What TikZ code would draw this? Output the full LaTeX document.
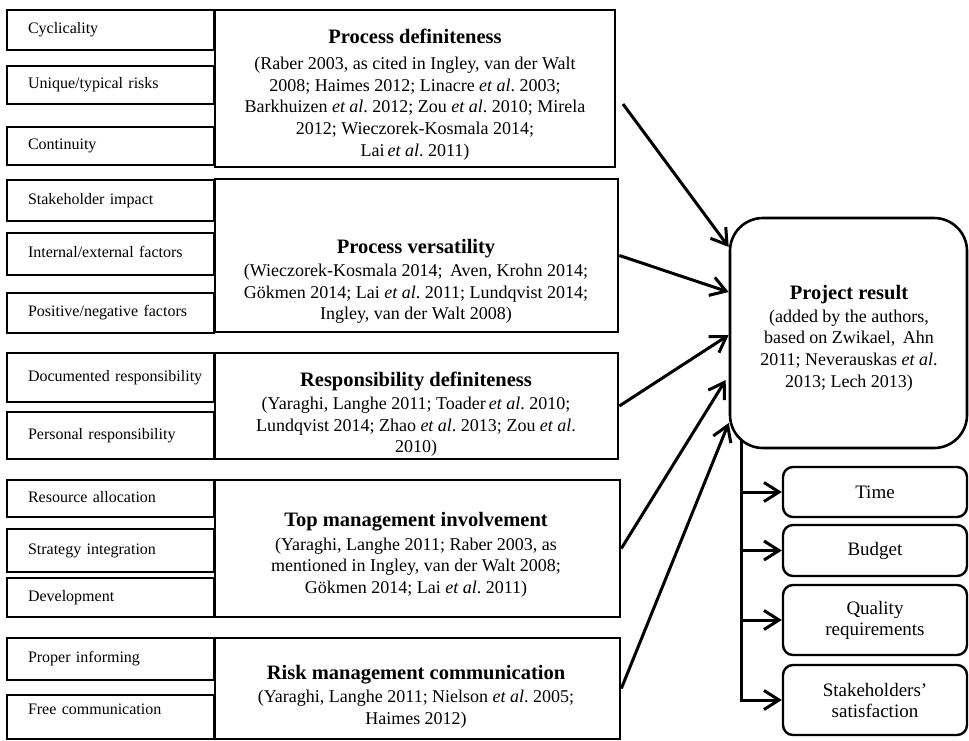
\documentclass[tikz,border=0pt]{standalone}
\usepackage{fontspec}
\setmainfont{Liberation Serif}
\usetikzlibrary{arrows.meta,calc}
\newcommand\ttl{\fontsize{20.5}{24}\selectfont\bfseries}
\tikzset{
  lbox/.style={draw, line width=2.6pt, text width=207pt, inner xsep=0pt, inner ysep=0pt,
    align=left, text height=10.5pt, text depth=3.5pt,
    font=\fontsize{16}{18}\selectfont, execute at begin node={\hspace*{21pt}}},
  mbox/.style={draw, line width=2.6pt, inner sep=0pt},
  mtext/.style={align=center, inner sep=0pt, anchor=north, font=\fontsize{18}{21.6}\selectfont},
  pbox/.style={draw, line width=2.6pt, rounded corners=33pt, inner sep=0pt},
  obox/.style={draw, line width=2.4pt, rounded corners=10pt, minimum width=184pt,
    align=center, inner sep=0pt, font=\fontsize{19}{21}\selectfont},
  arr/.style={line width=3pt, -{Straight Barb[length=15pt,width=19pt]}},
}
\begin{document}
\frenchspacing
\begin{tikzpicture}[x=1pt,y=-1pt]
\fill[white] (0,0) rectangle (969,740);
\useasboundingbox (0,0) rectangle (969,740);

% left factor boxes
\node[lbox, minimum height=40pt] (cyc) at (110.5,30) {Cyclicality};
\node[lbox, minimum height=38pt] (uni) at (110.5,85) {Unique/typical risks};
\node[lbox, minimum height=38pt] (con) at (110.5,146) {Continuity};
\node[lbox, minimum height=41pt] (sti) at (110.5,200.5) {Stakeholder impact};
\node[lbox, minimum height=42pt] (ief) at (110.5,254) {Internal/external factors};
\node[lbox, minimum height=40pt] (pnf) at (110.5,313) {Positive/negative factors};
\node[lbox, minimum height=49pt] (doc) at (110.5,377.5) {Documented responsibility};
\node[lbox, minimum height=47pt] (per) at (110.5,435.5) {Personal responsibility};
\node[lbox, minimum height=37pt] (res) at (110.5,498.5) {Resource allocation};
\node[lbox, minimum height=43pt] (str) at (110.5,550.5) {Strategy integration};
\node[lbox, minimum height=39pt] (dev) at (110.5,597.5) {Development};
\node[lbox, minimum height=42pt] (pin) at (110.5,659) {Proper informing};
\node[lbox, minimum height=44pt, text depth=16pt] (fco) at (110.5,717) {Free communication};

% main boxes
\node[mbox, minimum width=400pt, minimum height=157pt] (m1) at (415,88.5) {};
\node[mbox, minimum width=403pt, minimum height=153pt] (m2) at (416.5,255.5) {};
\node[mbox, minimum width=403pt, minimum height=106pt] (m3) at (416.5,406) {};
\node[mbox, minimum width=405pt, minimum height=137pt] (m4) at (417.5,548.5) {};
\node[mbox, minimum width=405pt, minimum height=101pt] (m5) at (417.5,688.5) {};

\node[mtext] (t1) at (415,28.5) {{\ttl Process definiteness}\\[5pt]
(Raber 2003, as cited in Ingley, van der Walt\\
2008; Haimes 2012; Linacre \textit{et al}. 2003;\\
Barkhuizen \textit{et al}. 2012; Zou \textit{et al}. 2010; Mirela\\
2012; Wieczorek-Kosmala 2014;\\
Lai\,\textit{et al}. 2011)};
\node[mtext] (t2) at (416,239) {{\ttl Process versatility}\\[1.5pt]
(Wieczorek-Kosmala 2014;\, Aven, Krohn 2014;\\
Gökmen 2014; Lai \textit{et al}. 2011; Lundqvist 2014;\\
Ingley, van der Walt 2008)};
\node[mtext] (t3) at (416,372) {{\ttl Responsibility definiteness}\\[1.5pt]
(Yaraghi, Langhe 2011; Toader\,\textit{et al}. 2010;\\
Lundqvist 2014; Zhao \textit{et al}. 2013; Zou \textit{et al}.\\
2010)};
\node[mtext] (t4) at (416,512.5) {{\ttl Top management involvement}\\[1.5pt]
(Yaraghi, Langhe 2011; Raber 2003, as\\
mentioned in Ingley, van der Walt 2008;\\
Gökmen 2014; Lai \textit{et al}. 2011)};
\node[mtext] (t5) at (416,665) {{\ttl Risk management communication}\\[1.5pt]
(Yaraghi, Langhe 2011; Nielson \textit{et al}. 2005;\\
Haimes 2012)};

% project result
\node[pbox, minimum width=237pt, minimum height=230pt] (pr) at (848.5,333) {};
\node[mtext] (prt) at (849,284.7) {{\ttl Project result}\\[1.5pt]
(added by the authors,\\
based on Zwikael,\, Ahn\\
2011; Neverauskas \textit{et al}.\\
2013; Lech 2013)};

% outcome boxes
\node[obox, minimum height=50pt] (time) at (875,492) {Time};
\node[obox, minimum height=51pt] (budget) at (875,550.5) {Budget};
\node[obox, minimum height=70pt] (quality) at (875,620) {Quality\\requirements};
\node[obox, minimum height=70pt] (stake) at (875,700) {Stakeholders’\\satisfaction};

% arrows into project result
\coordinate (s1) at (623,104);
\draw[arr] (s1) -- ($(pr.west)+(0,-86)$);
\draw[arr] (m2.east) -- ($(pr.west)+(0,-41)$);
\draw[arr] (m3.east) -- ($(pr.west)+(0,2)$);
\draw[arr] (m4.east) -- ($(pr.west)+(-3,47)$);
\draw[arr] (m5.east) -- ($(pr.west)+(0,90)$);

% trunk to outcomes
\coordinate (tk) at (741,440);
\draw[arr, line join=miter] (tk) -- (tk |- stake.west) -- (stake.west);
\draw[arr] (tk |- time.west) -- (time.west);
\draw[arr] (tk |- budget.west) -- (budget.west);
\draw[arr] (tk |- quality.west) -- (quality.west);
\end{tikzpicture}
\end{document}
